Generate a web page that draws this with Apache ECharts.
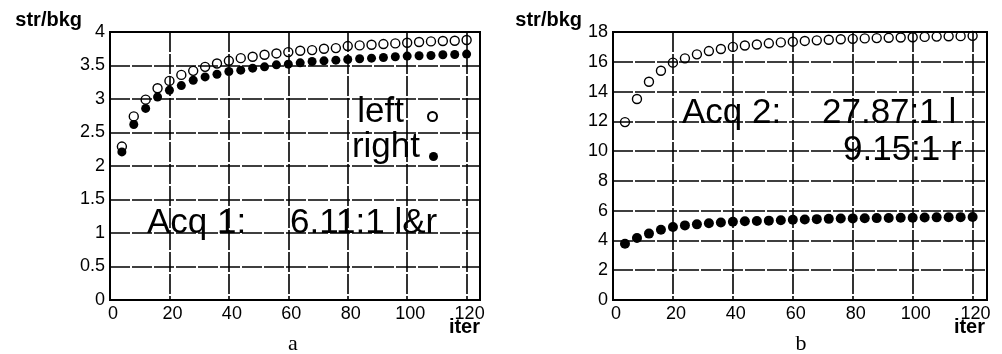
<!DOCTYPE html>
<html>
<head>
<meta charset="utf-8">
<script src="https://cdn.jsdelivr.net/npm/echarts@6/dist/echarts.min.js"></script>
<style>
html,body{margin:0;padding:0;background:#fff;}
#c{width:1002px;height:354px;}
</style>
</head>
<body>
<div id="c"></div>
<script>
// iterations (x values)
var iters = [4, 8, 12, 16, 20, 24, 28, 32, 36, 40, 44, 48, 52, 56, 60, 64, 68, 72, 76, 80, 84, 88, 92, 96, 100, 104, 108, 112, 116, 120];
// panel a (Acq 1)
var acq1Left  = [2.29, 2.74, 2.99, 3.16, 3.27, 3.36, 3.42, 3.48, 3.53, 3.57, 3.61, 3.63, 3.66, 3.68, 3.70, 3.72, 3.73, 3.75, 3.76, 3.79, 3.80, 3.81, 3.82, 3.83, 3.84, 3.85, 3.86, 3.865, 3.87, 3.88];
var acq1Right = [2.21, 2.62, 2.86, 3.03, 3.13, 3.20, 3.28, 3.33, 3.37, 3.41, 3.43, 3.46, 3.48, 3.51, 3.52, 3.54, 3.56, 3.57, 3.58, 3.59, 3.60, 3.61, 3.62, 3.63, 3.64, 3.645, 3.65, 3.66, 3.665, 3.67];
// panel b (Acq 2)
var acq2Left  = [11.95, 13.5, 14.66, 15.4, 15.94, 16.23, 16.5, 16.72, 16.86, 17.0, 17.09, 17.16, 17.24, 17.3, 17.35, 17.4, 17.44, 17.48, 17.51, 17.54, 17.57, 17.59, 17.61, 17.63, 17.65, 17.67, 17.69, 17.71, 17.72, 17.74];
var acq2Right = [3.78, 4.16, 4.46, 4.72, 4.9, 5.01, 5.08, 5.15, 5.21, 5.26, 5.29, 5.31, 5.33, 5.36, 5.39, 5.41, 5.43, 5.45, 5.47, 5.48, 5.49, 5.5, 5.51, 5.52, 5.53, 5.54, 5.55, 5.56, 5.565, 5.57];
// labels
var yName = 'str/bkg';
var xName = 'iter';
var seriesNames = ['left', 'right'];
var annotA = ['Acq 1:', '6.11:1 l&r'];
var annotB = ['Acq 2:', '27.87:1 l', '9.15:1 r'];
var panelLabels = ['a', 'b'];

var FF = "'Liberation Sans', Arial, sans-serif";
var SERIF = "'Liberation Serif', 'Times New Roman', serif";

function pairs(arr) { return iters.map(function (x, i) { return [x, arr[i]]; }); }

var gridLine = { show: true, lineStyle: { color: '#000', width: 1.6, type: [20, 2] } };

function xAxis(gi, max) {
  return {
    type: 'value', gridIndex: gi, min: 0, max: max, interval: 20,
    axisLine: { show: true, onZero: false, lineStyle: { color: '#000', width: 2 } },
    axisTick: { show: false },
    splitLine: gridLine,
    axisLabel: { color: '#000', fontSize: 18, fontFamily: FF, margin: 5, showMaxLabel: false, padding: [0, 0, 0, 6] },
    name: xName, nameLocation: 'end', nameGap: 0, nameMoveOverlap: false,
    nameTextStyle: { color: '#000', fontSize: 20, fontWeight: 'bold', fontFamily: FF, align: 'right', verticalAlign: 'top', padding: [17, gi === 1 ? 2 : 0, 0, 0] }
  };
}
function yAxis(gi, max, interval, padR) {
  return {
    type: 'value', gridIndex: gi, min: 0, max: max, interval: interval,
    axisLine: { show: true, lineStyle: { color: '#000', width: 2 } },
    axisTick: { show: false },
    splitLine: gridLine,
    axisLabel: { color: '#000', fontSize: 18, fontFamily: FF, margin: 5 },
    name: yName, nameLocation: 'end', nameGap: 2, nameMoveOverlap: false,
    nameTextStyle: { color: '#000', fontSize: 20, fontWeight: 'bold', fontFamily: FF, align: 'right', verticalAlign: 'bottom', padding: [0, padR, 0, 0] }
  };
}
function openSeries(name, xi, data, size) {
  return { name: name, type: 'scatter', xAxisIndex: xi, yAxisIndex: xi, data: pairs(data), symbol: 'circle', symbolSize: size,
    itemStyle: { color: 'rgba(0,0,0,0)', borderColor: '#000', borderWidth: 1.4, opacity: 1 }, emphasis: { disabled: true }, z: 3 };
}
function filledSeries(name, xi, data, size) {
  return { name: name, type: 'scatter', xAxisIndex: xi, yAxisIndex: xi, data: pairs(data), symbol: 'circle', symbolSize: size,
    itemStyle: { color: '#000', opacity: 1 }, emphasis: { disabled: true }, z: 4 };
}
function bigText(txt, x, y, size) {
  return { type: 'text', x: x, y: y, z: 10,
    style: { text: txt, fill: '#000', font: (size || 35) + 'px ' + FF, align: 'left', verticalAlign: 'middle' } };
}

var chart = echarts.init(document.getElementById('c'), null, { renderer: 'canvas' });
chart.setOption({
  backgroundColor: '#fff',
  animation: false,
  grid: [
    { left: 110, top: 32, width: 370, height: 268, show: true, borderColor: '#000', borderWidth: 2, backgroundColor: 'rgba(0,0,0,0)' },
    { left: 613, top: 32, width: 374, height: 268, show: true, borderColor: '#000', borderWidth: 2, backgroundColor: 'rgba(0,0,0,0)' }
  ],
  xAxis: [xAxis(0, 124.5), xAxis(1, 124.8)],
  yAxis: [yAxis(0, 4, 0.5, 28), yAxis(1, 18, 2, 31)],
  legend: [
    { data: [seriesNames[0]], orient: 'vertical', align: 'right', right: 564, top: 95, padding: 0,
      itemWidth: 9, itemHeight: 9, selectedMode: false, formatter: '{t|{name}}',
      textStyle: { rich: { t: { fontSize: 35, fontFamily: FF, color: '#000', lineHeight: 35, padding: [0, 19, 8, 0] } } } },
    { data: [seriesNames[1]], orient: 'vertical', align: 'right', right: 564, top: 130, padding: 0,
      itemWidth: 9, itemHeight: 9, selectedMode: false, formatter: '{t|{name}}',
      textStyle: { rich: { t: { fontSize: 35, fontFamily: FF, color: '#000', lineHeight: 35, padding: [0, 4, 18, 0] } } } }
  ],
  series: [
    openSeries(seriesNames[0], 0, acq1Left, 9),
    filledSeries(seriesNames[1], 0, acq1Right, 9),
    openSeries(seriesNames[0], 1, acq2Left, 9),
    filledSeries(seriesNames[1], 1, acq2Right, 10)
  ],
  graphic: [
    bigText(annotA[0], 147, 223),
    bigText(annotA[1], 290, 223),
    bigText(annotB[0], 682, 113),
    bigText(annotB[1], 822, 113),
    bigText(annotB[2], 843, 150),
    { type: 'text', x: 293, y: 344, style: { text: panelLabels[0], fill: '#000', font: '22px ' + SERIF, align: 'center', verticalAlign: 'middle' } },
    { type: 'text', x: 801, y: 344, style: { text: panelLabels[1], fill: '#000', font: '22px ' + SERIF, align: 'center', verticalAlign: 'middle' } }
  ]
});
</script>
</body>
</html>
